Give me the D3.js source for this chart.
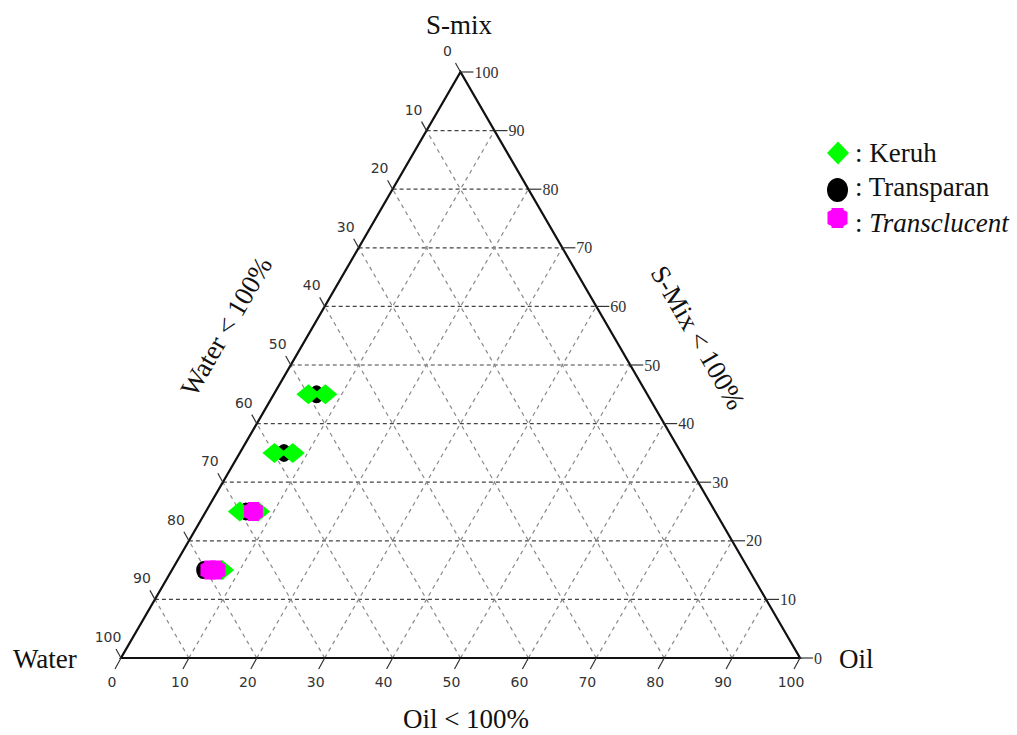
<!DOCTYPE html>
<html>
<head>
<meta charset="utf-8">
<script src="https://cdn.jsdelivr.net/npm/d3@7"></script>
<style>
body{margin:0;background:#fff;}
svg{display:block;}
</style>
</head>
<body>
<svg id="mainSVG" width="1017" height="735"></svg>
<script>
var $svg = d3.select("#mainSVG");

// ternary data, percent (water = 100 - oil - smix)
var tickVals = [0,10,20,30,40,50,60,70,80,90,100];
var gridVals = [10,20,30,40,50,60,70,80,90];
var keruhOil  = [5.1, 7.6, 5.1, 7.8, 5.0, 7.7, 7.4];
var keruhSmix = [45, 45, 35, 35, 25, 25, 15];
var transOil  = [6.3, 6.5, 5.9, 4.6];
var transSmix = [45, 35, 25, 15];
var translOil  = [7.0, 5.6, 6.5];
var translSmix = [25, 15, 15];
var legendLabels = ['Keruh','Transparan','Transclucent'];

var serif = "'Liberation Serif','Times New Roman',serif";
var sans = "'DejaVu Sans',Tahoma,sans-serif";

var x = d3.scaleLinear().domain([0,100]).range([121,800]);
var y = d3.scaleLinear().domain([0,100]).range([658,72]);
const pt = (oil,smix)=>[x(oil+smix/2), y(smix)];

// grid
var $grid = $svg.append('g').attr('id','grid').attr('fill','none');
$grid.selectAll('.h').data(gridVals).enter().append('line')
    .attr('x1',d=>pt(0,d)[0]).attr('y1',d=>pt(0,d)[1])
    .attr('x2',d=>pt(100-d,d)[0]).attr('y2',d=>pt(100-d,d)[1])
    .attr('stroke','#444').attr('stroke-width',1.2).attr('stroke-dasharray','4 3');
$grid.selectAll('.o').data(gridVals).enter().append('line')
    .attr('x1',d=>pt(d,0)[0]).attr('y1',d=>pt(d,0)[1])
    .attr('x2',d=>pt(d,100-d)[0]).attr('y2',d=>pt(d,100-d)[1])
    .attr('stroke','#888').attr('stroke-width',1.2).attr('stroke-dasharray','4 4');
$grid.selectAll('.w').data(gridVals).enter().append('line')
    .attr('x1',d=>pt(100-d,0)[0]).attr('y1',d=>pt(100-d,0)[1])
    .attr('x2',d=>pt(0,100-d)[0]).attr('y2',d=>pt(0,100-d)[1])
    .attr('stroke','#888').attr('stroke-width',1.2).attr('stroke-dasharray','4 4');

// triangle
$svg.append('path')
    .attr('d', 'M'+[pt(0,0),pt(100,0),pt(0,100)].map(p=>p.join(',')).join('L')+'Z')
    .attr('fill','none').attr('stroke','#111').attr('stroke-width',2.2)
    .attr('stroke-linejoin','miter');

// left ticks (water)
var $ax = $svg.append('g').attr('id','ticks');
$ax.selectAll('.lt').data(tickVals).enter().append('line')
    .attr('x1',d=>pt(0,100-d)[0]).attr('y1',d=>pt(0,100-d)[1])
    .attr('x2',d=>pt(0,100-d)[0]-5).attr('y2',d=>pt(0,100-d)[1]-9)
    .attr('stroke','#333').attr('stroke-width',1.2);
$ax.selectAll('.ll').data(tickVals).enter().append('text')
    .attr('x',d=>pt(0,100-d)[0]-13).attr('y',d=>pt(0,100-d)[1]-21)
    .attr('text-anchor','middle').attr('dy','0.35em')
    .attr('font-family',sans).attr('font-size',14).attr('fill','#333')
    .text(d=>d);

// right ticks (s-mix)
$ax.selectAll('.rt').data(tickVals).enter().append('line')
    .attr('x1',d=>pt(100-d,d)[0]).attr('y1',d=>pt(100-d,d)[1])
    .attr('x2',d=>pt(100-d,d)[0]+13).attr('y2',d=>pt(100-d,d)[1])
    .attr('stroke','#333').attr('stroke-width',1.2);
$ax.selectAll('.rl').data(tickVals).enter().append('text')
    .attr('x',d=>pt(100-d,d)[0]+14).attr('y',d=>pt(100-d,d)[1])
    .attr('dy','0.35em')
    .attr('font-family',serif).attr('font-size',16).attr('fill','#333')
    .text(d=>d);

// bottom ticks (oil)
$ax.selectAll('.bt').data(tickVals).enter().append('line')
    .attr('x1',d=>pt(d,0)[0]).attr('y1',d=>pt(d,0)[1])
    .attr('x2',d=>pt(d,0)[0]-6).attr('y2',d=>pt(d,0)[1]+11)
    .attr('stroke','#333').attr('stroke-width',1.2);
$ax.selectAll('.bl').data(tickVals).enter().append('text')
    .attr('x',d=>pt(d,0)[0]-9).attr('y',d=>pt(d,0)[1]+24)
    .attr('text-anchor','middle').attr('dy','0.35em')
    .attr('font-family',sans).attr('font-size',14).attr('fill','#333')
    .text(d=>d);

// titles
var titles = [
    {t:'S-mix', x:459, y:34, a:'middle', r:0},
    {t:'Water', x:13, y:668, a:'start', r:0},
    {t:'Oil', x:839, y:668, a:'start', r:0},
    {t:'Oil < 100%', x:466, y:728, a:'middle', r:0},
    {t:'Water < 100%', x:234, y:331, a:'middle', r:-60},
    {t:'S-Mix < 100%', x:690, y:342, a:'middle', r:60}
];
$svg.append('g').selectAll('text').data(titles).enter().append('text')
    .attr('transform',d=>`translate(${d.x},${d.y}) rotate(${d.r})`)
    .attr('text-anchor',d=>d.a)
    .attr('font-family',serif).attr('font-size',27).attr('fill','#111')
    .text(d=>d.t);

// marker shapes
const diamond = (w,h)=>`M0,${-h}L${w},0L0,${h}L${-w},0Z`;
const blob = (s)=>{
    let a = s, b = s*0.6;
    return `M${-b},${-a}L${b},${-a}L${b},${-a+2}L${a},${-b}L${a},${b}L${b},${a-2}L${b},${a}L${-b},${a}L${-b},${a-2}L${-a},${b}L${-a},${-b}L${-b},${-a+2}Z`;
};

var $pts = $svg.append('g').attr('id','points');
$pts.selectAll('.tr').data(transOil).enter().append('ellipse')
    .attr('cx',(d,i)=>pt(d,transSmix[i])[0]).attr('cy',(d,i)=>pt(d,transSmix[i])[1])
    .attr('rx',7).attr('ry',9).attr('fill','#000');
$pts.selectAll('.ke').data(keruhOil).enter().append('path')
    .attr('transform',(d,i)=>`translate(${pt(d,keruhSmix[i])})`)
    .attr('d',diamond(12,10)).attr('fill','#00ff00');
$pts.selectAll('.tl').data(translOil).enter().append('path')
    .attr('transform',(d,i)=>`translate(${pt(d,translSmix[i])})`)
    .attr('d',blob(9.5)).attr('fill','#ff00ff');

// legend
var $leg = $svg.append('g').attr('id','legend');
$leg.append('path').attr('transform','translate(838,153)')
    .attr('d',diamond(11,11.5)).attr('fill','#00ff00');
$leg.append('ellipse').attr('cx',837.5).attr('cy',190).attr('rx',10.5).attr('ry',12).attr('fill','#000');
$leg.append('path').attr('transform','translate(837.5,218)')
    .attr('d',blob(10)).attr('fill','#ff00ff');
$leg.selectAll('text').data(legendLabels).enter().append('text')
    .attr('x',855).attr('y',(d,i)=>[162,196,232][i])
    .attr('font-family',serif).attr('font-size',27).attr('fill','#111')
    .each(function(d,i){
        let $t = d3.select(this);
        $t.append('tspan').text(': ');
        $t.append('tspan').attr('font-style',i==2?'italic':'normal').text(d);
    });
</script>
</body>
</html>
